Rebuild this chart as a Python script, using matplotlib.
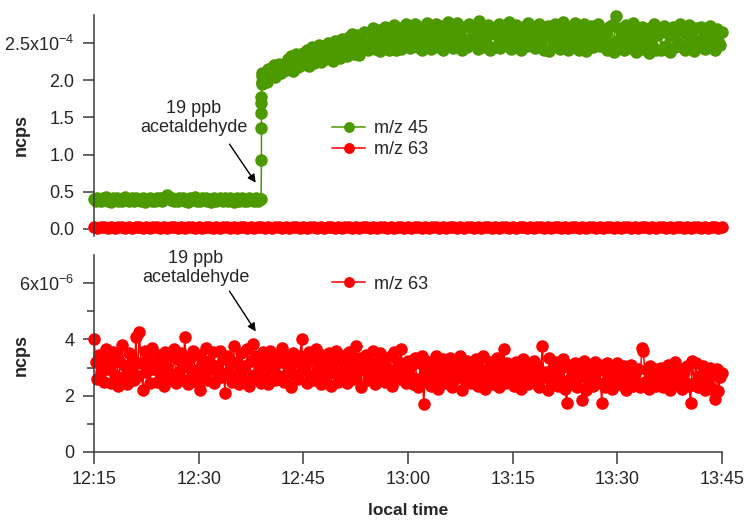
import numpy as np
import matplotlib
matplotlib.use('Agg')
import matplotlib.pyplot as plt

plt.rcParams['font.family'] = ['Liberation Sans', 'DejaVu Sans']
plt.rcParams['mathtext.fontset'] = 'custom'
plt.rcParams['mathtext.rm'] = 'Liberation Sans'
plt.rcParams['mathtext.it'] = 'Liberation Sans'
plt.rcParams['mathtext.bf'] = 'Liberation Sans:bold'

# minutes after 12:15
tick_pos = [0, 15, 30, 45, 60, 75, 90]
tick_labels = ['12:15', '12:30', '12:45', '13:00', '13:15', '13:30', '13:45']

# m/z 45 (x1e-4 ncps) before the acetaldehyde step, 15 s sampling
t45_pre = np.arange(0, 24, 0.25)
mz45_pre = [0.40, 0.38, 0.42, 0.39, 0.37, 0.41, 0.40, 0.43, 0.38, 0.40, 0.36, 0.41,
            0.39, 0.42, 0.38, 0.40, 0.37, 0.41, 0.43, 0.39, 0.38, 0.40, 0.42, 0.37,
            0.41, 0.39, 0.40, 0.38, 0.42, 0.36, 0.40, 0.39, 0.41, 0.38, 0.40, 0.37,
            0.42, 0.39, 0.41, 0.38, 0.40, 0.43, 0.45, 0.41, 0.39, 0.42, 0.38, 0.40,
            0.37, 0.41, 0.39, 0.42, 0.38, 0.40, 0.36, 0.41, 0.39, 0.40, 0.43, 0.38,
            0.40, 0.37, 0.41, 0.39, 0.42, 0.38, 0.40, 0.36, 0.39, 0.41, 0.38, 0.40,
            0.42, 0.39, 0.37, 0.41, 0.40, 0.38, 0.42, 0.39, 0.36, 0.40, 0.41, 0.38,
            0.39, 0.42, 0.37, 0.40, 0.38, 0.41, 0.39, 0.40, 0.37, 0.41, 0.38, 0.40]
# the step
t45_step = [23.95, 24.0, 24.0, 24.0, 24.0, 24.0, 24.05, 24.05, 24.1, 24.15]
mz45_step = [0.40, 0.93, 1.36, 1.56, 1.69, 1.77, 1.98, 2.05, 1.95, 2.10]
# after the step
t45_post = np.arange(24.25, 90.01, 0.25)
mz45_post = [2.02, 2.10, 1.98, 2.15, 2.06, 2.12, 2.20, 2.04, 2.16, 2.22, 2.10, 2.18,
             2.22, 2.14, 2.28, 2.18, 2.32, 2.12, 2.26, 2.35, 2.17, 2.30, 2.20, 2.37,
             2.24, 2.40, 2.19, 2.34, 2.44, 2.23, 2.38, 2.27, 2.47, 2.25, 2.41, 2.32,
             2.29, 2.50, 2.33, 2.45, 2.26, 2.52, 2.36, 2.43, 2.30, 2.55, 2.38, 2.47,
             2.33, 2.58, 2.40, 2.62, 2.35, 2.50, 2.60, 2.34, 2.55, 2.42, 2.65, 2.46,
             2.40, 2.64, 2.50, 2.70, 2.42, 2.55, 2.68, 2.39, 2.60, 2.47, 2.72, 2.52,
             2.41, 2.66, 2.53, 2.74, 2.40, 2.58, 2.70, 2.42, 2.62, 2.49, 2.76, 2.55,
             2.43, 2.67, 2.52, 2.75, 2.45, 2.60, 2.72, 2.41, 2.64, 2.50, 2.77, 2.56,
             2.42, 2.68, 2.55, 2.76, 2.44, 2.59, 2.73, 2.40, 2.63, 2.51, 2.78, 2.54,
             2.66, 2.43, 2.58, 2.77, 2.46, 2.62, 2.40, 2.71, 2.53, 2.45, 2.75, 2.57,
             2.48, 2.72, 2.55, 2.42, 2.79, 2.60, 2.44, 2.67, 2.51, 2.74, 2.41, 2.63,
             2.70, 2.45, 2.61, 2.76, 2.43, 2.57, 2.69, 2.48, 2.64, 2.78, 2.42, 2.59,
             2.52, 2.74, 2.44, 2.65, 2.40, 2.71, 2.58, 2.46, 2.77, 2.50, 2.68, 2.55,
             2.43, 2.63, 2.75, 2.49, 2.70, 2.41, 2.60, 2.73, 2.39, 2.66, 2.52, 2.76,
             2.47, 2.69, 2.42, 2.62, 2.78, 2.50, 2.67, 2.40, 2.72, 2.56, 2.44, 2.77,
             2.64, 2.41, 2.70, 2.53, 2.75, 2.39, 2.66, 2.48, 2.73, 2.45, 2.68, 2.57,
             2.76, 2.46, 2.69, 2.54, 2.62, 2.40, 2.71, 2.50, 2.74, 2.38, 2.86, 2.52,
             2.70, 2.44, 2.63, 2.40, 2.74, 2.51, 2.67, 2.43, 2.77, 2.55, 2.38, 2.65,
             2.48, 2.72, 2.42, 2.66, 2.53, 2.37, 2.70, 2.47, 2.75, 2.41, 2.61, 2.68,
             2.40, 2.64, 2.73, 2.46, 2.68, 2.38, 2.60, 2.71, 2.44, 2.66, 2.50, 2.76,
             2.45, 2.69, 2.41, 2.62, 2.74, 2.48, 2.66, 2.39, 2.70, 2.52, 2.44, 2.72,
             2.56, 2.42, 2.67, 2.50, 2.73, 2.46, 2.64, 2.40, 2.69, 2.53, 2.47, 2.65]

# m/z 63 in the top panel (x1e-4 ncps), 30 s sampling
t63_top = np.arange(0, 90.01, 0.5)
mz63_top = [0.02, 0.01, 0.02, 0.02, 0.01, 0.02, 0.01, 0.02, 0.02, 0.01, 0.02, 0.01, 0.02,
            0.02, 0.01, 0.02, 0.01, 0.02, 0.02, 0.01, 0.02, 0.01, 0.02, 0.02, 0.01, 0.02,
            0.01, 0.02, 0.02, 0.01, 0.02, 0.01, 0.02, 0.02, 0.01, 0.02, 0.01, 0.02, 0.02,
            0.01, 0.02, 0.01, 0.02, 0.02, 0.01, 0.02, 0.01, 0.02, 0.02, 0.01, 0.02, 0.01,
            0.02, 0.02, 0.01, 0.02, 0.01, 0.02, 0.02, 0.01, 0.02, 0.01, 0.02, 0.02, 0.01,
            0.02, 0.01, 0.02, 0.02, 0.01, 0.02, 0.01, 0.02, 0.02, 0.01, 0.02, 0.01, 0.02,
            0.02, 0.01, 0.02, 0.01, 0.02, 0.02, 0.01, 0.02, 0.01, 0.02, 0.02, 0.01, 0.02,
            0.01, 0.02, 0.02, 0.01, 0.02, 0.01, 0.02, 0.02, 0.01, 0.02, 0.01, 0.02, 0.02,
            0.01, 0.02, 0.01, 0.02, 0.02, 0.01, 0.02, 0.01, 0.02, 0.02, 0.01, 0.02, 0.01,
            0.02, 0.02, 0.01, 0.02, 0.01, 0.02, 0.02, 0.01, 0.02, 0.01, 0.02, 0.02, 0.01,
            0.02, 0.01, 0.02, 0.02, 0.01, 0.02, 0.01, 0.02, 0.02, 0.01, 0.02, 0.01, 0.02,
            0.02, 0.01, 0.02, 0.01, 0.02, 0.02, 0.01, 0.02, 0.01, 0.02, 0.02, 0.01, 0.02,
            0.01, 0.02, 0.02, 0.01, 0.02, 0.01, 0.02, 0.02, 0.01, 0.02, 0.01, 0.02, 0.02,
            0.01, 0.02, 0.01, 0.02, 0.02, 0.01, 0.02, 0.01, 0.02, 0.02, 0.01, 0.02]

# m/z 63 bottom panel (x1e-6 ncps), 15 s sampling
t63 = np.arange(0, 90.01, 0.25)
mz63 = [4.00, 3.20, 2.60, 3.45, 2.85, 3.30, 2.50, 3.65, 2.95, 3.15, 2.45, 3.55,
        2.75, 3.40, 2.35, 3.20, 3.80, 2.65, 3.05, 2.40, 3.50, 2.90, 3.25, 2.55,
        4.10, 2.70, 4.25, 3.15, 2.20, 3.60, 2.85, 3.35, 2.45, 3.70, 2.95, 3.10,
        2.50, 3.45, 2.80, 3.25, 2.35, 3.55, 3.00, 2.60, 3.40, 2.75, 3.65, 2.45,
        3.30, 2.85, 3.50, 2.55, 4.10, 3.05, 2.40, 3.35, 2.70, 3.60, 2.90, 2.50,
        3.45, 2.20, 3.15, 2.80, 3.70, 2.55, 3.25, 2.95, 3.55, 2.45, 3.05, 2.75,
        3.60, 2.65, 3.30, 2.10, 3.40, 2.85, 3.15, 2.50, 3.75, 2.70, 3.20, 2.40,
        3.50, 2.90, 3.05, 2.55, 3.65, 2.35, 3.25, 3.85, 2.75, 3.40, 2.60, 3.10,
        2.45, 3.55, 2.80, 3.30, 2.40, 3.60, 2.95, 3.15, 2.55, 3.45, 2.70, 3.20,
        3.70, 2.50, 3.35, 2.85, 3.05, 2.30, 3.50, 2.75, 3.25, 2.60, 3.40, 4.00,
        2.90, 3.20, 2.45, 3.55, 2.70, 3.35, 2.55, 3.65, 2.85, 3.10, 2.40, 3.45,
        2.65, 3.30, 2.95, 3.50, 2.35, 3.15, 2.80, 3.60, 2.50, 3.25, 2.75, 3.40,
        3.05, 2.45, 3.55, 2.70, 3.20, 2.60, 3.75, 2.85, 3.35, 2.30, 3.10, 2.90,
        3.45, 2.55, 3.25, 2.80, 3.60, 2.40, 3.15, 2.70, 3.50, 2.95, 3.30, 2.50,
        3.00, 2.65, 3.40, 2.35, 3.55, 2.85, 3.20, 2.60, 3.65, 2.75, 3.05, 2.45,
        3.25, 2.70, 3.05, 2.40, 3.35, 2.60, 2.30, 3.15, 3.40, 1.70, 2.85, 2.50,
        3.20, 2.35, 3.00, 2.75, 3.40, 2.25, 3.10, 2.55, 3.30, 2.45, 2.90, 2.65,
        3.35, 2.30, 3.15, 2.60, 3.05, 2.80, 3.40, 2.20, 2.95, 2.50, 3.25, 2.70,
        2.45, 3.10, 2.65, 3.30, 2.35, 3.00, 2.75, 3.40, 2.25, 2.90, 2.55, 3.20,
        2.40, 3.05, 2.70, 3.35, 2.30, 2.95, 2.60, 3.65, 2.45, 3.15, 2.85, 2.50,
        3.00, 2.35, 3.20, 2.65, 2.90, 2.25, 3.30, 2.55, 3.10, 2.40, 2.95, 2.75,
        3.25, 2.45, 3.05, 2.30, 2.80, 3.75, 2.65, 2.85, 2.20, 3.35, 2.50, 3.00,
        2.75, 3.20, 2.35, 2.95, 2.55, 3.30, 2.25, 1.75, 3.10, 2.60, 2.85, 2.40,
        3.15, 2.30, 2.90, 2.70, 1.85, 3.25, 2.20, 3.05, 2.50, 2.80, 2.35, 3.20,
        2.85, 2.45, 3.10, 1.75, 2.95, 2.30, 3.15, 2.60, 2.75, 2.25, 3.05, 2.50,
        3.15, 2.40, 2.85, 2.60, 3.05, 2.20, 2.95, 2.50, 3.10, 2.35, 2.80, 2.45,
        2.95, 2.30, 3.70, 3.60, 2.50, 2.90, 2.25, 3.05, 2.60, 2.75, 2.35, 2.95,
        2.55, 3.00, 2.30, 2.85, 2.45, 3.10, 2.20, 2.90, 2.65, 3.20, 2.40, 2.75,
        2.95, 2.25, 2.80, 2.50, 3.05, 2.35, 1.75, 3.25, 2.45, 3.15, 2.30, 2.70,
        2.55, 3.05, 2.20, 2.85, 2.40, 3.00, 2.25, 2.75, 1.90, 2.95, 2.15, 2.65,
        2.80]

green = '#4C9900'
red = '#FF0000'
axcol = '#3a3a3a'
txtcol = '#262626'
fs = 13
ms = 8

fig = plt.figure(figsize=(7.47, 5.22), dpi=100)
ax1 = fig.add_axes([0.1258, 0.548, 0.8407, 0.4234])
ax2 = fig.add_axes([0.1258, 0.1341, 0.8407, 0.3774])

t45 = np.concatenate([t45_pre, t45_step, t45_post])
mz45 = mz45_pre + mz45_step + mz45_post
ax1.plot(t45, mz45, '-o', color=green, lw=1.1, ms=ms, label='m/z 45', clip_on=False)
ax1.plot(t63_top, mz63_top, '-o', color=red, lw=1.1, ms=ms, label='m/z 63', clip_on=False)
ax2.plot(t63, mz63, '-o', color=red, lw=1.1, ms=ms, label='m/z 63', clip_on=False)

ax1.set_xlim(0, 90)
ax1.set_ylim(-0.094, 2.876)
ax2.set_xlim(0, 90)
ax2.set_ylim(0, 7.0)

for ax in (ax1, ax2):
    for s in ['top', 'right']:
        ax.spines[s].set_visible(False)
    ax.spines['left'].set_color(axcol)
    ax.spines['left'].set_linewidth(1.1)
    ax.tick_params(axis='y', direction='out', length=8, width=1.1, color=axcol,
                   labelsize=fs, labelcolor=txtcol, pad=6)
    ax.set_ylabel('ncps', fontsize=13, fontweight='bold', color=txtcol)

ax1.yaxis.set_label_coords(-0.102, 0.457)
ax2.yaxis.set_label_coords(-0.102, 0.492)

ax1.spines['bottom'].set_visible(False)
ax1.set_xticks([])
ax1.set_yticks([0, 0.5, 1.0, 1.5, 2.0, 2.5])
ax1.set_yticklabels(['0.0', '0.5', '1.0', '1.5', '2.0', r'2.5x10$^{-4}$'])

ax2.spines['bottom'].set_color(axcol)
ax2.spines['bottom'].set_linewidth(1.1)
ax2.set_yticks([0, 2, 4, 6])
ax2.set_yticklabels(['0', '2', '4', r'6x10$^{-6}$'])
ax2.set_yticks([1, 3, 5], minor=True)
ax2.tick_params(axis='y', which='minor', direction='out', length=5, width=1.1, color=axcol)
ax2.set_xticks(tick_pos)
ax2.set_xticklabels(tick_labels)
ax2.tick_params(axis='x', direction='out', length=8.5, width=1.1, color=axcol,
                labelsize=fs, labelcolor=txtcol, pad=5)
ax2.set_xlabel('local time', fontsize=12.5, fontweight='bold', color=txtcol, labelpad=11)

# annotations
ax1.text(14.3, 1.49, '19 ppb\nacetaldehyde', ha='center', va='center',
         fontsize=fs, color=txtcol, linespacing=1.15)
ax1.annotate('', xy=(23.4, 0.59), xytext=(19.2, 1.17),
             arrowprops=dict(arrowstyle='-|>', color='black', lw=1, mutation_scale=12))
ax2.text(14.6, 6.55, '19 ppb\nacetaldehyde', ha='center', va='center',
         fontsize=fs, color=txtcol, linespacing=1.15)
ax2.annotate('', xy=(23.4, 4.2), xytext=(19.2, 5.8),
             arrowprops=dict(arrowstyle='-|>', color='black', lw=1, mutation_scale=12))

leg_kw = dict(frameon=False, fontsize=fs, handlelength=1.85, handletextpad=0.46,
              borderpad=0, borderaxespad=0, labelspacing=0.25, markerscale=0.85,
              labelcolor=txtcol)
ax1.legend(loc='upper left', bbox_to_anchor=(0.379, 0.525), **leg_kw)
ax2.legend(loc='upper left', bbox_to_anchor=(0.379, 0.895), **leg_kw)

fig.savefig('out.png', dpi=100)
